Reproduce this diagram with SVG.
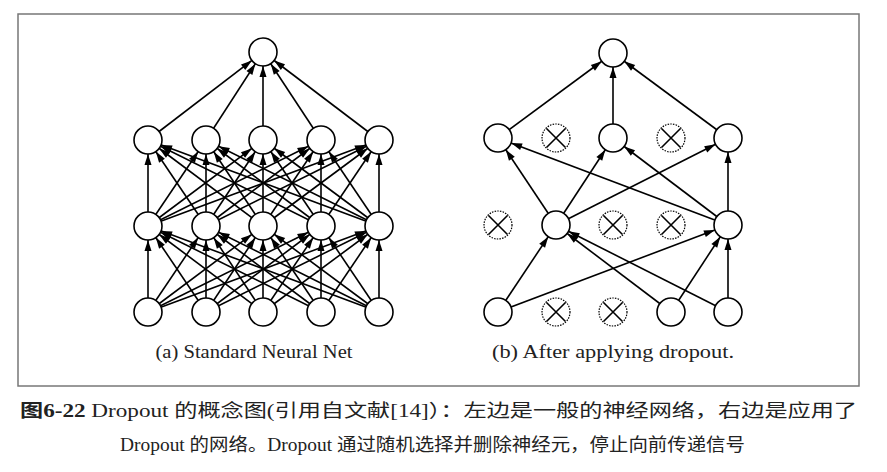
<svg xmlns="http://www.w3.org/2000/svg" width="887" height="472" viewBox="0 0 887 472">
<style>
.e line{stroke:#000;stroke-width:1.6;marker-end:url(#ah)}
.n{fill:#fff;stroke:#000;stroke-width:1.6}
.d circle{fill:#fff;stroke:#000;stroke-width:1.2;stroke-dasharray:1.5 1.2}
.d path{stroke:#000;stroke-width:1.6;fill:none}
.lab{font-family:'Liberation Serif','DejaVu Serif',serif;font-size:19px;fill:#222;text-anchor:middle}
.cap{font-family:'Liberation Serif','DejaVu Serif','Noto Sans CJK SC',serif;font-size:18px;fill:#222}
</style>
<defs>
<marker id="ah" viewBox="0 -5 30 10" markerWidth="30" markerHeight="10" refX="28" refY="0" orient="auto" markerUnits="userSpaceOnUse" overflow="visible"><path d="M3,-3.5 L14,0 L3,3.5 z" fill="#000"/></marker>
</defs>
<rect x="18" y="14" width="841" height="372" fill="#fff" stroke="#777" stroke-width="1.5"/>
<g id="connectors" class="e">
<line x1="148" y1="312" x2="148" y2="226"/><line x1="148" y1="312" x2="206" y2="226"/><line x1="148" y1="312" x2="263" y2="226"/><line x1="148" y1="312" x2="321" y2="226"/><line x1="148" y1="312" x2="379" y2="226"/>
<line x1="206" y1="312" x2="148" y2="226"/><line x1="206" y1="312" x2="206" y2="226"/><line x1="206" y1="312" x2="263" y2="226"/><line x1="206" y1="312" x2="321" y2="226"/><line x1="206" y1="312" x2="379" y2="226"/>
<line x1="263" y1="312" x2="148" y2="226"/><line x1="263" y1="312" x2="206" y2="226"/><line x1="263" y1="312" x2="263" y2="226"/><line x1="263" y1="312" x2="321" y2="226"/><line x1="263" y1="312" x2="379" y2="226"/>
<line x1="321" y1="312" x2="148" y2="226"/><line x1="321" y1="312" x2="206" y2="226"/><line x1="321" y1="312" x2="263" y2="226"/><line x1="321" y1="312" x2="321" y2="226"/><line x1="321" y1="312" x2="379" y2="226"/>
<line x1="379" y1="312" x2="148" y2="226"/><line x1="379" y1="312" x2="206" y2="226"/><line x1="379" y1="312" x2="263" y2="226"/><line x1="379" y1="312" x2="321" y2="226"/><line x1="379" y1="312" x2="379" y2="226"/>
<line x1="148" y1="226" x2="148" y2="140"/><line x1="148" y1="226" x2="206" y2="140"/><line x1="148" y1="226" x2="263" y2="140"/><line x1="148" y1="226" x2="321" y2="140"/><line x1="148" y1="226" x2="379" y2="140"/>
<line x1="206" y1="226" x2="148" y2="140"/><line x1="206" y1="226" x2="206" y2="140"/><line x1="206" y1="226" x2="263" y2="140"/><line x1="206" y1="226" x2="321" y2="140"/><line x1="206" y1="226" x2="379" y2="140"/>
<line x1="263" y1="226" x2="148" y2="140"/><line x1="263" y1="226" x2="206" y2="140"/><line x1="263" y1="226" x2="263" y2="140"/><line x1="263" y1="226" x2="321" y2="140"/><line x1="263" y1="226" x2="379" y2="140"/>
<line x1="321" y1="226" x2="148" y2="140"/><line x1="321" y1="226" x2="206" y2="140"/><line x1="321" y1="226" x2="263" y2="140"/><line x1="321" y1="226" x2="321" y2="140"/><line x1="321" y1="226" x2="379" y2="140"/>
<line x1="379" y1="226" x2="148" y2="140"/><line x1="379" y1="226" x2="206" y2="140"/><line x1="379" y1="226" x2="263" y2="140"/><line x1="379" y1="226" x2="321" y2="140"/><line x1="379" y1="226" x2="379" y2="140"/>
<line x1="148" y1="140" x2="263" y2="52"/><line x1="206" y1="140" x2="263" y2="52"/><line x1="263" y1="140" x2="263" y2="52"/><line x1="321" y1="140" x2="263" y2="52"/><line x1="379" y1="140" x2="263" y2="52"/>
<line x1="498" y1="138" x2="613" y2="53"/><line x1="613" y1="138" x2="613" y2="53"/><line x1="728" y1="138" x2="613" y2="53"/>
<line x1="556" y1="225" x2="498" y2="138"/><line x1="728" y1="225" x2="498" y2="138"/><line x1="556" y1="225" x2="613" y2="138"/><line x1="728" y1="225" x2="613" y2="138"/><line x1="556" y1="225" x2="728" y2="138"/><line x1="728" y1="225" x2="728" y2="138"/>
<line x1="498" y1="312" x2="556" y2="225"/><line x1="671" y1="312" x2="556" y2="225"/><line x1="728" y1="312" x2="556" y2="225"/><line x1="498" y1="312" x2="728" y2="225"/><line x1="671" y1="312" x2="728" y2="225"/><line x1="728" y1="312" x2="728" y2="225"/>
</g>
<g id="left-nodes" class="n">
<circle id="a-out" cx="263" cy="52" r="14"/>
<circle cx="148" cy="140" r="14"/><circle cx="206" cy="140" r="14"/><circle cx="263" cy="140" r="14"/><circle cx="321" cy="140" r="14"/><circle cx="379" cy="140" r="14"/>
<circle cx="148" cy="226" r="14"/><circle cx="206" cy="226" r="14"/><circle cx="263" cy="226" r="14"/><circle cx="321" cy="226" r="14"/><circle cx="379" cy="226" r="14"/>
<circle cx="148" cy="312" r="14"/><circle cx="206" cy="312" r="14"/><circle cx="263" cy="312" r="14"/><circle cx="321" cy="312" r="14"/><circle cx="379" cy="312" r="14"/>
</g>
<g id="right-nodes" class="n">
<circle cx="613" cy="53" r="14"/>
<circle cx="498" cy="138" r="14"/><circle cx="613" cy="138" r="14"/><circle cx="728" cy="138" r="14"/>
<circle cx="556" cy="225" r="14"/><circle cx="728" cy="225" r="14"/>
<circle cx="498" cy="312" r="14"/><circle cx="671" cy="312" r="14"/><circle cx="728" cy="312" r="14"/>
</g>
<g id="dropped" class="d">
<g transform="translate(556,138)"><circle r="14"/><path d="M-9.5,-9.5 L9.5,9.5 M9.5,-9.5 L-9.5,9.5"/></g>
<g transform="translate(671,138)"><circle r="14"/><path d="M-9.5,-9.5 L9.5,9.5 M9.5,-9.5 L-9.5,9.5"/></g>
<g transform="translate(498,225)"><circle r="14"/><path d="M-9.5,-9.5 L9.5,9.5 M9.5,-9.5 L-9.5,9.5"/></g>
<g transform="translate(613,225)"><circle r="14"/><path d="M-9.5,-9.5 L9.5,9.5 M9.5,-9.5 L-9.5,9.5"/></g>
<g transform="translate(671,225)"><circle r="14"/><path d="M-9.5,-9.5 L9.5,9.5 M9.5,-9.5 L-9.5,9.5"/></g>
<g transform="translate(556,312)"><circle r="14"/><path d="M-9.5,-9.5 L9.5,9.5 M9.5,-9.5 L-9.5,9.5"/></g>
<g transform="translate(613,312)"><circle r="14"/><path d="M-9.5,-9.5 L9.5,9.5 M9.5,-9.5 L-9.5,9.5"/></g>
</g>
<text class="lab" x="254" y="358" textLength="197" lengthAdjust="spacingAndGlyphs">(a) Standard Neural Net</text>
<text class="lab" x="613" y="358" textLength="242" lengthAdjust="spacingAndGlyphs">(b) After applying dropout.</text>
<text class="cap" x="20" y="417" textLength="837" lengthAdjust="spacingAndGlyphs"><tspan font-weight="bold">图6-22</tspan>   Dropout 的概念图(引用自文献[14]）：左边是一般的神经网络，右边是应用了</text>
<text class="cap" x="120" y="451" textLength="625" lengthAdjust="spacingAndGlyphs">Dropout 的网络。Dropout 通过随机选择并删除神经元，停止向前传递信号</text>
</svg>
